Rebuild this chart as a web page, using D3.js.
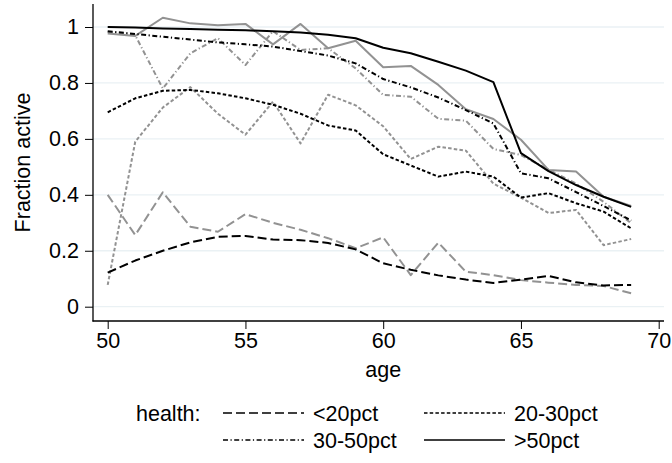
<!DOCTYPE html>
<html>
<head>
<meta charset="utf-8">
<script src="https://cdn.jsdelivr.net/npm/d3@7"></script>
<style>
  html, body { margin: 0; padding: 0; background: #fff; }
  svg { display: block; font-family: "Liberation Sans", Arial, sans-serif; }
</style>
</head>
<body>
<svg id="chart" width="672" height="463"></svg>
<script>
// Ages on the horizontal axis
const ages = [50,51,52,53,54,55,56,57,58,59,60,61,62,63,64,65,66,67,68,69];

// Smoothed fraction active by health group
const fitLt20   = [0.122,0.165,0.200,0.230,0.250,0.253,0.240,0.238,0.228,0.205,0.155,0.132,0.112,0.097,0.085,0.097,0.110,0.087,0.076,0.078];
const fit20to30 = [0.695,0.745,0.772,0.775,0.763,0.745,0.722,0.690,0.648,0.630,0.545,0.505,0.465,0.483,0.465,0.390,0.406,0.370,0.340,0.280];
const fit30to50 = [0.985,0.975,0.965,0.955,0.945,0.938,0.930,0.914,0.898,0.870,0.814,0.784,0.748,0.703,0.655,0.477,0.459,0.410,0.360,0.308];
const fitGt50   = [1.000,0.998,0.995,0.993,0.990,0.988,0.985,0.980,0.972,0.960,0.926,0.906,0.876,0.844,0.803,0.549,0.485,0.435,0.393,0.357];

// Raw fraction active by health group
const rawLt20   = [0.400,0.256,0.409,0.286,0.268,0.331,0.300,0.275,0.245,0.209,0.248,0.113,0.229,0.125,0.113,0.095,0.086,0.078,0.074,0.048];
const raw20to30 = [0.078,0.590,0.712,0.785,0.690,0.615,0.733,0.584,0.758,0.720,0.645,0.528,0.572,0.558,0.440,0.390,0.335,0.346,0.220,0.242];
const raw30to50 = [0.982,0.970,0.780,0.906,0.960,0.864,0.985,0.918,0.924,0.852,0.757,0.751,0.672,0.665,0.564,0.542,0.490,0.440,0.375,0.298];
const rawGt50   = [0.977,0.968,1.033,1.013,1.006,1.011,0.938,1.011,0.924,0.951,0.856,0.861,0.793,0.706,0.671,0.597,0.489,0.483,0.393,0.360];

const xTicks = [50,55,60,65,70];
const yTicks = [0,0.2,0.4,0.6,0.8,1];
const yTickLabels = ["0","0.2","0.4","0.6","0.8","1"];

const groupNames = ["<20pct","20-30pct","30-50pct",">50pct"];
const dashes = ["9,4", "3.5,2.2", "5,2.5,1.2,2.5", null];

const fontSize = 21.5;
const svg = d3.select("#chart");

const x = d3.scaleLinear().domain([50, 70]).range([107.7, 658.7]);
const y = d3.scaleLinear().domain([0, 1]).range([306.7, 27]);

const plotLeft = 93, plotBottom = 321, plotTop = 4, plotRight = 664;

// Gridlines
svg.append("g").selectAll("line").data(yTicks).join("line")
  .attr("x1", plotLeft).attr("x2", plotRight)
  .attr("y1", d => y(d)).attr("y2", d => y(d))
  .attr("stroke", "#eaf1f4").attr("stroke-width", 1.3);

// Axes
const yAxis = d3.axisLeft(y).tickValues(yTicks).tickSize(8).tickPadding(6)
  .tickFormat((d, i) => yTickLabels[i]);
const gy = svg.append("g").attr("transform", `translate(${plotLeft},0)`).call(yAxis);
gy.select(".domain").remove();
gy.selectAll("text").attr("font-size", fontSize).attr("font-family", "Liberation Sans, Arial, sans-serif").attr("fill", "#000");
gy.selectAll("line").attr("stroke", "#000");

const xAxis = d3.axisBottom(x).tickValues(xTicks).tickSize(8).tickPadding(4);
const gx = svg.append("g").attr("transform", `translate(0,${plotBottom})`).call(xAxis);
gx.select(".domain").remove();
gx.selectAll("text").attr("font-size", fontSize).attr("font-family", "Liberation Sans, Arial, sans-serif").attr("fill", "#000");
gx.selectAll("line").attr("stroke", "#000");

svg.append("line").attr("x1", plotLeft).attr("x2", plotLeft).attr("y1", plotTop).attr("y2", plotBottom + 0.5)
  .attr("stroke", "#000").attr("stroke-width", 1.3);
svg.append("line").attr("x1", plotLeft - 0.5).attr("x2", plotRight).attr("y1", plotBottom).attr("y2", plotBottom)
  .attr("stroke", "#000").attr("stroke-width", 1.3);

// Axis titles
svg.append("text").attr("x", x(60)).attr("y", 377).attr("text-anchor", "middle")
  .attr("font-size", fontSize).text("age");
svg.append("text").attr("transform", `translate(30,${(plotTop + plotBottom) / 2}) rotate(-90)`)
  .attr("text-anchor", "middle").attr("font-size", fontSize).text("Fraction active");

// Series
const line = d3.line().x((d, i) => x(ages[i])).y(d => y(d));
const raw = [rawLt20, raw20to30, raw30to50, rawGt50];
const fit = [fitLt20, fit20to30, fit30to50, fitGt50];

const series = svg.append("g");
raw.forEach((vals, k) => {
  series.append("path").attr("d", line(vals)).attr("fill", "none")
    .attr("stroke", "#929292").attr("stroke-width", 2)
    .attr("stroke-dasharray", dashes[k]).attr("stroke-linejoin", "round");
});
fit.forEach((vals, k) => {
  series.append("path").attr("d", line(vals)).attr("fill", "none")
    .attr("stroke", "#000").attr("stroke-width", 2)
    .attr("stroke-dasharray", dashes[k]).attr("stroke-linejoin", "round");
});

// Legend
const legend = svg.append("g");
legend.append("text").attr("x", 136).attr("y", 421).attr("font-size", fontSize).text("health:");
const legPos = [[223, 413], [424, 413], [223, 440], [424, 440]];
groupNames.forEach((name, k) => {
  const [lx, ly] = legPos[k];
  legend.append("line").attr("x1", lx).attr("x2", lx + 81).attr("y1", ly).attr("y2", ly)
    .attr("stroke", "#000").attr("stroke-width", 1.5).attr("stroke-dasharray", dashes[k]);
  legend.append("text").attr("x", lx + 90).attr("y", ly + 8).attr("font-size", fontSize).text(name);
});
</script>
</body>
</html>
